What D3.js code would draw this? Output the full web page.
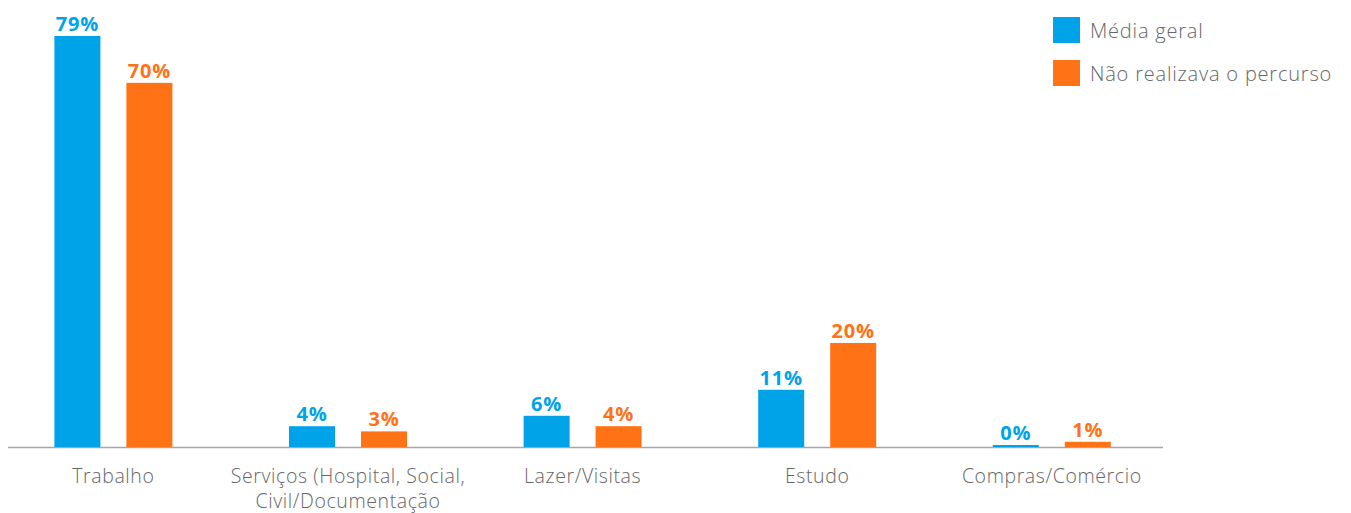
<!DOCTYPE html>
<html>
<head>
<meta charset="utf-8">
<script src="https://cdn.jsdelivr.net/npm/d3@7"></script>
<style>
  body { margin: 0; background: #fff; }
  svg { display: block; font-family: "Open Sans", Lato, sans-serif; }
</style>
</head>
<body>
<svg width="1351" height="513"></svg>
<script>
var categories = ["Trabalho", "Serviços (Hospital, Social,|Civil/Documentação", "Lazer/Visitas", "Estudo", "Compras/Comércio"];
var series = ["Média geral", "Não realizava o percurso"];
var mediaGeral = [79, 4, 6, 11, 0];
var naoRealizava = [70, 3, 4, 20, 1];
var colors = ["#00a3e8", "#ff7216"];

var svg = d3.select("svg"),
    baseY = 447,
    topY = 36;

var step = 234.6, first = 113.4, groupW = 118;
var x = d3.scaleBand()
    .domain(categories)
    .range([first - step / 2, first - step / 2 + step * categories.length])
    .paddingInner(1 - groupW / step)
    .paddingOuter((1 - groupW / step) / 2);

var xs = d3.scaleBand().domain(series).range([0, x.bandwidth()]).paddingInner(0.361);

var y = d3.scaleLinear().domain([0, 79]).range([baseY, topY]);

var rows = categories.map(function(c, i) {
  return { cat: c, values: [mediaGeral[i], naoRealizava[i]] };
});

// axis line
svg.append("line")
    .attr("x1", 8).attr("x2", 1163)
    .attr("y1", baseY + 0.5).attr("y2", baseY + 0.5)
    .attr("stroke", "#a6a6a6").attr("stroke-width", 1.5);

var g = svg.selectAll("g.cat").data(rows).enter().append("g")
    .attr("class", "cat")
    .attr("transform", function(d) { return "translate(" + x(d.cat) + ",0)"; });

g.selectAll("rect").data(function(d) { return d.values; }).enter().append("rect")
    .attr("x", function(v, i) { return xs(series[i]); })
    .attr("width", xs.bandwidth())
    .attr("y", function(v) { return Math.min(y(v), baseY - 2); })
    .attr("height", function(v) { return Math.max(baseY - y(v), 2); })
    .attr("fill", function(v, i) { return colors[i]; });

g.selectAll("text.val").data(function(d) { return d.values; }).enter().append("text")
    .attr("class", "val")
    .attr("x", function(v, i) { return xs(series[i]) + xs.bandwidth() / 2; })
    .attr("y", function(v) { return Math.min(y(v), baseY - 2) - 5; })
    .attr("text-anchor", "middle")
    .attr("font-size", 20)
    .attr("font-weight", 700)
    .attr("letter-spacing", 0.8)
    .attr("fill", function(v, i) { return colors[i]; })
    .text(function(v) { return v + "%"; });

// category labels
g.append("text")
    .attr("text-anchor", "middle")
    .attr("font-size", 19.5)
    .attr("font-weight", 300)
    .attr("letter-spacing", 0.6)
    .attr("fill", "#666")
    .attr("transform", function() { return "translate(" + (x.bandwidth() / 2) + ",483)"; })
    .selectAll("tspan").data(function(d) { return d.cat.split("|"); }).enter().append("tspan")
    .attr("x", 0)
    .attr("dy", function(t, i) { return i ? 24.5 : 0; })
    .text(function(t) { return t; });

// legend
var legend = svg.selectAll("g.leg").data(series).enter().append("g")
    .attr("class", "leg")
    .attr("transform", function(d, i) { return "translate(1053," + (17 + i * 43) + ")"; });
legend.append("rect").attr("width", 27).attr("height", 26)
    .attr("fill", function(d, i) { return colors[i]; });
legend.append("text").attr("x", 37).attr("y", 21)
    .attr("font-size", 20).attr("font-weight", 300).attr("letter-spacing", 0.8).attr("fill", "#666")
    .text(function(d) { return d; });
</script>
</body>
</html>
